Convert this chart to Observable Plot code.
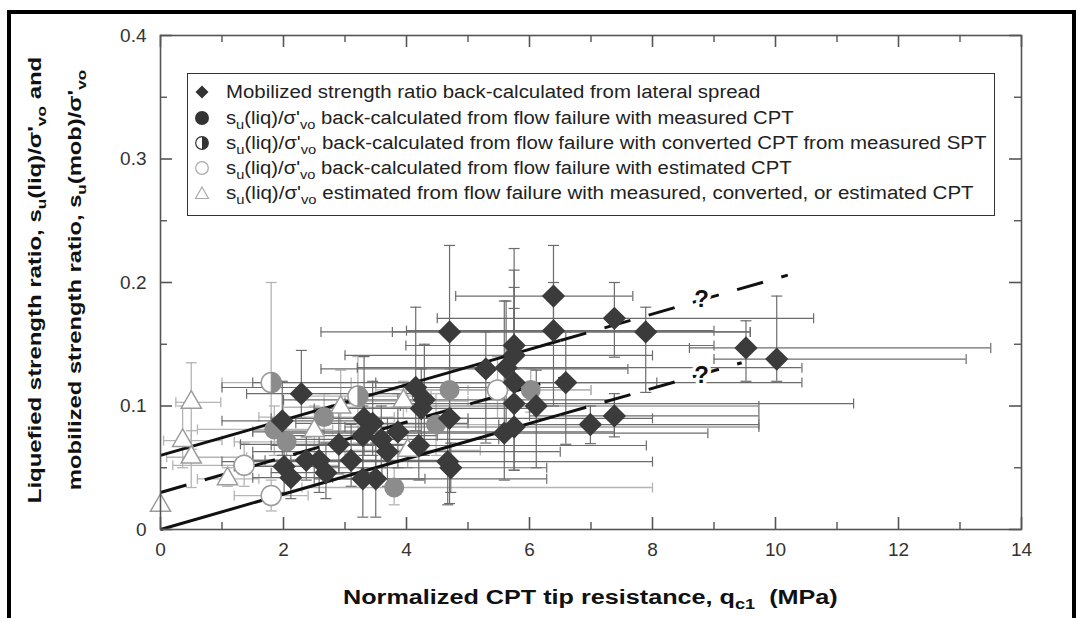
<!DOCTYPE html>
<html>
<head>
<meta charset="utf-8">
<script src="https://cdn.jsdelivr.net/npm/d3@7"></script>
<script src="https://cdn.jsdelivr.net/npm/@observablehq/plot@0.6"></script>
<style>
  body { margin: 0; background: #fff; }
  #wrap { position: relative; width: 1076px; height: 618px; overflow: hidden; background: #fff; font-family: "Liberation Sans", Arial, sans-serif; }
  #border { position: absolute; left: 7px; top: 10px; width: 1069px; height: 640px; border: 4px solid #000; box-sizing: border-box; }
  #chart { position: absolute; left: 0; top: 0; }
  sub { font-size: 0.72em; vertical-align: -0.35em; line-height: 0; }
  #legend { position: absolute; left: 187px; top: 73px; width: 808px; height: 143px; box-sizing: border-box; border: 1.5px solid #333; background: #fff; font-size: 18px; color: #222; }
  .row { position: absolute; left: 0; height: 24px; line-height: 24px; white-space: nowrap; }
  .row svg { position: absolute; left: 4px; top: 2px; }
  .row span { position: absolute; left: 38px; top: 0; transform-origin: 0 50%; }
  .ytl { position: absolute; white-space: nowrap; font-weight: bold; font-size: 19px; line-height: 24px; color: #111; }
  #xtitle { position: absolute; left: 590px; top: 597px; white-space: nowrap; font-weight: bold; font-size: 20px; line-height: 24px; color: #111; }
</style>
</head>
<body>
<div id="wrap">
  <div id="chart"></div>
  <div id="border"></div>
  <div id="legend"></div>
  <div class="ytl" id="yt1">Liquefied strength ratio, s<sub>u</sub>(liq)/σ'<sub>vo</sub> and</div>
  <div class="ytl" id="yt2">mobilized strength ratio, s<sub>u</sub>(mob)/σ'<sub>vo</sub></div>
  <div id="xtitle">Normalized CPT tip resistance, q<sub>c1</sub>&nbsp; (MPa)</div>
</div>
<script>
// ---------- axis ticks ----------
const xTicks = [0, 2, 4, 6, 8, 10, 12, 14];
const xTickLabels = ["0", "2", "4", "6", "8", "10", "12", "14"];
const xMinorTicks = [1, 3, 5, 7, 9, 11, 13];
const yTicks = [0, 0.1, 0.2, 0.3, 0.4];
const yTickLabels = ["0", "0.1", "0.2", "0.3", "0.4"];
const yMinorTicks = [0.05, 0.15, 0.25, 0.35];

// ---------- lateral spread (mobilized strength ratio) ----------
const lsX   = [1.98, 2.29, 2.01, 2.12, 2.37, 2.58, 2.69, 2.90, 3.10, 3.29, 3.50, 3.31, 3.45, 3.29, 3.59, 3.69, 3.86, 4.15, 4.29, 4.24, 4.20, 4.70, 4.70, 4.67, 4.72, 5.29, 5.62, 5.75, 5.75, 5.75, 5.75, 5.75, 5.59, 6.11, 6.59, 6.39, 6.39, 6.99, 7.38, 7.38, 7.89, 9.52, 10.02];
const lsY   = [0.088, 0.110, 0.051, 0.042, 0.056, 0.056, 0.046, 0.069, 0.056, 0.041, 0.041, 0.090, 0.086, 0.076, 0.073, 0.063, 0.079, 0.115, 0.105, 0.098, 0.068, 0.160, 0.090, 0.055, 0.050, 0.130, 0.131, 0.149, 0.141, 0.119, 0.102, 0.083, 0.078, 0.100, 0.119, 0.189, 0.161, 0.085, 0.092, 0.171, 0.160, 0.147, 0.138];
const lsXlo = [1.0, 1.4, 1.2, 1.5, 1.5, 1.7, 1.8, 1.3, 1.5, 2.5, 2.7, 1.8, 2.2, 2.0, 2.0, 1.5, 1.5, 1.0, 2.0, 2.5, 1.8, 2.61, 2.6, 1.0, 2.5, 2.61, 3.2, 3.99, 3.0, 1.5, 3.0, 3.0, 2.0, 3.9, 3.5, 4.80, 4.0, 5.5, 6.0, 4.50, 3.77, 8.6, 9.0];
const lsXhi = [3.5, 4.1, 2.9, 2.8, 3.2, 3.5, 3.6, 4.2, 4.6, 4.3, 6.28, 5.0, 5.0, 4.5, 5.5, 6.5, 7.38, 6.6, 7.38, 6.0, 7.9, 9.59, 8.0, 8.0, 6.28, 7.6, 10.43, 9.0, 8.0, 8.07, 11.27, 9.73, 8.9, 9.73, 10.43, 7.68, 9.0, 9.73, 9.73, 10.62, 9.59, 13.5, 13.1];
const lsYlo = [0.06, 0.09, 0.03, 0.025, 0.04, 0.03, 0.025, 0.045, 0.035, 0.01, 0.01, 0.06, 0.06, 0.05, 0.05, 0.035, 0.05, 0.08, 0.06, 0.07, 0.04, 0.09, 0.021, 0.02, 0.03, 0.07, 0.08, 0.12, 0.10, 0.08, 0.048, 0.048, 0.04, 0.05, 0.069, 0.16, 0.10, 0.0695, 0.075, 0.1395, 0.111, 0.12, 0.12];
const lsYhi = [0.12, 0.145, 0.07, 0.06, 0.075, 0.08, 0.07, 0.095, 0.085, 0.07, 0.07, 0.14, 0.12, 0.10, 0.10, 0.09, 0.11, 0.18, 0.15, 0.13, 0.10, 0.23, 0.16, 0.09, 0.07, 0.16, 0.185, 0.2275, 0.21, 0.196, 0.179, 0.13, 0.185, 0.129, 0.16, 0.23, 0.20, 0.10, 0.11, 0.20, 0.18, 0.169, 0.189];

// ---------- flow failures: measured CPT (filled gray circles) ----------
const mX   = [1.85, 2.05, 2.66, 3.80, 4.48, 4.70, 6.02];
const mY   = [0.081, 0.071, 0.091, 0.034, 0.085, 0.113, 0.113];
const mXlo = [0.6, 1.2, 1.6, 2.3, 3.4, 3.5, 5.0];
const mXhi = [2.8, 3.0, 3.8, 8.0, 5.8, 6.0, 7.0];
const mYlo = [0.06, 0.05, 0.07, 0.02, 0.06, 0.09, 0.095];
const mYhi = [0.10, 0.09, 0.11, 0.05, 0.11, 0.13, 0.13];

// ---------- flow failures: converted CPT from SPT (half-filled) ----------
const cX   = [1.80, 3.21];
const cY   = [0.119, 0.108];
const cXlo = [1.0, 2.2];
const cXhi = [3.1, 4.4];
const cYlo = [0.08, 0.07];
const cYhi = [0.20, 0.14];

// ---------- flow failures: estimated CPT (open circles) ----------
const eX   = [1.36, 1.80, 5.48];
const eY   = [0.052, 0.0275, 0.113];
const eXlo = [0.2, 1.2, 4.0];
const eXhi = [2.9, 2.4, 7.0];
const eYlo = [0.035, 0.015, 0.09];
const eYhi = [0.07, 0.04, 0.14];

// ---------- flow failures: estimated strength ratio (open triangles) ----------
const tX   = [0.0, 0.36, 0.50, 0.50, 1.09, 2.50, 2.93, 3.95, 4.02];
const tY   = [0.0194, 0.072, 0.103, 0.0585, 0.041, 0.080, 0.099, 0.104, 0.064];
const tXlo = [0.0, 0.05, 0.25, 0.1, 0.6, 1.5, 2.0, 3.0, 3.0];
const tXhi = [0.0, 1.0, 0.98, 1.4, 1.6, 3.6, 4.0, 5.0, 5.2];
const tYlo = [0.0194, 0.05, 0.065, 0.034, 0.035, 0.06, 0.08, 0.09, 0.05];
const tYhi = [0.0194, 0.10, 0.135, 0.08, 0.05, 0.10, 0.129, 0.12, 0.08];

// ---------- relationship lines (endpoints) ----------
const lineStyle = ["solid", "solid", "dashed", "dashed", "dashed"];
const lineX1 = [0, 0, 0, 6.5, 6.5];
const lineY1 = [0.06, 0, 0.03, 0.153, 0.093];
const lineX2 = [6.5, 6.5, 6.6, 10.2, 9.45];
const lineY2 = [0.153, 0.093, 0.124, 0.206, 0.135];
const qX = [8.8, 8.8];
const qY = [0.186, 0.125];
const qText = ["?", "?"];

// ---------- build tables ----------
function rows(X, Y, XL, XH, YL, YH) {
  return X.map((x, i) => ({x, y: Y[i], xlo: XL[i], xhi: XH[i], ylo: YL[i], yhi: YH[i]}));
}
const ls = rows(lsX, lsY, lsXlo, lsXhi, lsYlo, lsYhi);
const meas = rows(mX, mY, mXlo, mXhi, mYlo, mYhi);
const conv = rows(cX, cY, cXlo, cXhi, cYlo, cYhi);
const est = rows(eX, eY, eXlo, eXhi, eYlo, eYhi);
const tri = rows(tX, tY, tXlo, tXhi, tYlo, tYhi);
const flow = [...meas, ...conv, ...est, ...tri];
const lines = lineX1.map((x1, i) => ({style: lineStyle[i], x1, y1: lineY1[i], x2: lineX2[i], y2: lineY2[i]}));
const qs = qX.map((x, i) => ({x, y: qY[i], t: qText[i]}));

// custom symbols
const vcap = {draw(ctx) { ctx.moveTo(0, -5); ctx.lineTo(0, 5); }};
const hcap = {draw(ctx) { ctx.moveTo(-5.5, 0); ctx.lineTo(5.5, 0); }};
const halfRight = {draw(ctx, size) { const r = Math.sqrt(size / Math.PI); ctx.moveTo(0, -r); ctx.arc(0, 0, r, -Math.PI / 2, Math.PI / 2); ctx.closePath(); }};

function errorMarks(data, color, w) {
  const h = data.filter(d => d.xhi > d.xlo);
  const v = data.filter(d => d.yhi > d.ylo);
  const o = {fill: "none", stroke: color, strokeWidth: w};
  return [
    Plot.ruleY(h, {y: "y", x1: "xlo", x2: "xhi", stroke: color, strokeWidth: w}),
    Plot.ruleX(v, {x: "x", y1: "ylo", y2: "yhi", stroke: color, strokeWidth: w}),
    Plot.dot(h, {x: "xlo", y: "y", symbol: vcap, ...o}),
    Plot.dot(h, {x: "xhi", y: "y", symbol: vcap, ...o}),
    Plot.dot(v, {x: "x", y: "ylo", symbol: hcap, ...o}),
    Plot.dot(v, {x: "x", y: "yhi", symbol: hcap, ...o})
  ];
}

const W = 1076, H = 618, mL = 160, mR = 55, mT = 35, mB = 89;
const pw = W - mL - mR, ph = H - mT - mB;
const axisColor = "#555";

const chart = Plot.plot({
  width: W, height: H,
  marginLeft: mL, marginRight: mR, marginTop: mT, marginBottom: mB,
  x: {domain: [0, 14]},
  y: {domain: [0, 0.4]},
  style: {fontFamily: "'Liberation Sans', Arial, sans-serif", fontSize: "19px", color: "#333", background: "transparent", overflow: "visible"},
  marks: [
    ...errorMarks(flow, "#b4b4b4", 1.3),
    ...errorMarks(ls, "#6c6c6c", 1.2),
    Plot.link(lines.filter(d => d.style === "solid"), {x1: "x1", y1: "y1", x2: "x2", y2: "y2", stroke: "#111", strokeWidth: 3}),
    Plot.link(lines.filter(d => d.style === "dashed"), {x1: "x1", y1: "y1", x2: "x2", y2: "y2", stroke: "#111", strokeWidth: 3, strokeDasharray: "27,19"}),
    Plot.dot(tri, {x: "x", y: "y", symbol: "triangle", r: 7.5, fill: "white", stroke: "#9c9c9c", strokeWidth: 1.5}),
    Plot.dot(est, {x: "x", y: "y", r: 10, fill: "white", stroke: "#9c9c9c", strokeWidth: 1.5}),
    Plot.dot(conv, {x: "x", y: "y", r: 10, fill: "white", stroke: "#9c9c9c", strokeWidth: 1.5}),
    Plot.dot(conv, {x: "x", y: "y", r: 10, symbol: halfRight, fill: "#8c8c8c", stroke: "#8c8c8c", strokeWidth: 1}),
    Plot.dot(meas, {x: "x", y: "y", r: 10, fill: "#8c8c8c"}),
    Plot.dot(ls, {x: "x", y: "y", symbol: "diamond2", r: 10.5, fill: "#3b3b3b"}),
    Plot.text(qs, {x: "x", y: "y", text: "t", fontSize: 24, fontWeight: "bold", fill: "#111", stroke: "white", strokeWidth: 7}),
    Plot.frame({stroke: axisColor, strokeWidth: 1.6}),
    Plot.ruleX(xTicks, {x: d => d, insetTop: ph - 12, stroke: axisColor, strokeWidth: 1.6}),
    Plot.ruleX(xMinorTicks, {x: d => d, insetTop: ph - 7, stroke: axisColor, strokeWidth: 1.4}),
    Plot.ruleX(xTicks, {x: d => d, insetBottom: ph - 12, stroke: axisColor, strokeWidth: 1.6}),
    Plot.ruleX(xMinorTicks, {x: d => d, insetBottom: ph - 7, stroke: axisColor, strokeWidth: 1.4}),
    Plot.ruleY(yTicks, {y: d => d, insetRight: pw - 12, stroke: axisColor, strokeWidth: 1.6}),
    Plot.ruleY(yMinorTicks, {y: d => d, insetRight: pw - 7, stroke: axisColor, strokeWidth: 1.4}),
    Plot.ruleY(yTicks, {y: d => d, insetLeft: pw - 12, stroke: axisColor, strokeWidth: 1.6}),
    Plot.ruleY(yMinorTicks, {y: d => d, insetLeft: pw - 7, stroke: axisColor, strokeWidth: 1.4}),
    Plot.axisX({ticks: xTicks, tickSize: 0, tickPadding: 13, tickFormat: (d) => xTickLabels[xTicks.indexOf(d)], label: null, fill: "#333"}),
    Plot.axisY({ticks: yTicks, tickSize: 0, tickPadding: 14, tickFormat: (d) => yTickLabels[yTicks.indexOf(d)], label: null, fill: "#333"})
  ]
});
document.getElementById("chart").appendChild(chart);

// ---------- legend ----------
const legendItems = [
  {sym: "diamond", html: "Mobilized strength ratio back-calculated from lateral spread"},
  {sym: "filled", html: "s<sub>u</sub>(liq)/σ'<sub>vo</sub> back-calculated from flow failure with measured CPT"},
  {sym: "half", html: "s<sub>u</sub>(liq)/σ'<sub>vo</sub> back-calculated from flow failure with converted CPT from measured SPT"},
  {sym: "open", html: "s<sub>u</sub>(liq)/σ'<sub>vo</sub> back-calculated from flow failure with estimated CPT"},
  {sym: "tri", html: "s<sub>u</sub>(liq)/σ'<sub>vo</sub> estimated from flow failure with measured, converted, or estimated CPT"}
];
const legendRowCenters = [18, 44, 69, 94, 119];
const legendTextWidths = [534, 568, 760, 566, 748];
const symSvg = {
  diamond: '<path d="M10,3.5 L16.5,10 L10,16.5 L3.5,10 Z" fill="#333"/>',
  filled: '<circle cx="10" cy="10" r="7" fill="#333"/>',
  half: '<circle cx="10" cy="10" r="6.3" fill="#fff" stroke="#333" stroke-width="1.2"/><path d="M10,3.7 A6.3,6.3 0 0 1 10,16.3 Z" fill="#333"/>',
  open: '<circle cx="10" cy="10" r="6.3" fill="#fff" stroke="#aaa" stroke-width="1.2"/>',
  tri: '<path d="M10,4 L16.5,15.5 L3.5,15.5 Z" fill="#fff" stroke="#aaa" stroke-width="1.2"/>'
};
const legend = document.getElementById("legend");
legendItems.forEach((it, i) => {
  const row = document.createElement("div");
  row.className = "row";
  row.style.top = (legendRowCenters[i] - 12) + "px";
  row.innerHTML = `<svg width="20" height="20" viewBox="0 0 20 20">${symSvg[it.sym]}</svg><span>${it.html}</span>`;
  legend.appendChild(row);
  const span = row.querySelector("span");
  span.style.transform = `scaleX(${legendTextWidths[i] / span.offsetWidth})`;
});

// ---------- axis titles: fit to measured extents ----------
const yt = [
  {el: document.getElementById("yt1"), cx: 35, len: 446},
  {el: document.getElementById("yt2"), cx: 75, len: 420}
];
yt.forEach(({el, cx, len}) => {
  const w = el.offsetWidth, h = el.offsetHeight;
  el.style.left = (cx - w / 2) + "px";
  el.style.top = (280 - h / 2) + "px";
  el.style.transform = `rotate(-90deg) scaleX(${len / w})`;
});
const xt = document.getElementById("xtitle");
xt.style.left = (590 - xt.offsetWidth / 2) + "px";
xt.style.top = (597 - xt.offsetHeight / 2) + "px";
xt.style.transform = `scaleX(${495 / xt.offsetWidth})`;
</script>
</body>
</html>
